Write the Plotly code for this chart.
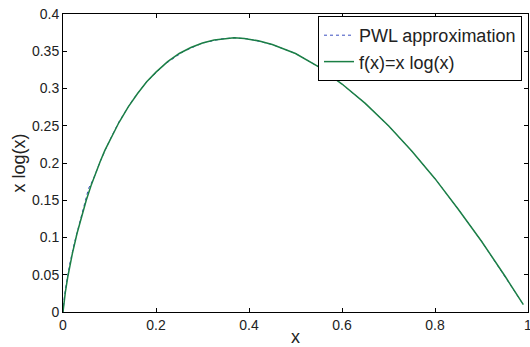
import plotly.graph_objects as go

# f(x) = x log(x) curve (plotted as magnitude)
f_x = [0.0, 0.001, 0.003, 0.005, 0.01, 0.015, 0.02, 0.03, 0.04, 0.05, 0.06, 0.07, 0.08, 0.09,
       0.10, 0.12, 0.14, 0.16, 0.18, 0.20, 0.225, 0.25, 0.275, 0.30, 0.325, 0.35, 0.368,
       0.39, 0.42, 0.45, 0.48, 0.50, 0.55, 0.60, 0.65, 0.70, 0.75, 0.80, 0.85, 0.90, 0.95, 0.99]
f_y = [0.0, 0.0069, 0.0174, 0.0265, 0.046, 0.063, 0.078, 0.105, 0.129, 0.150, 0.169, 0.186,
       0.202, 0.217, 0.230, 0.254, 0.275, 0.293, 0.309, 0.322, 0.336, 0.347, 0.355, 0.361,
       0.365, 0.367, 0.368, 0.367, 0.364, 0.359, 0.352, 0.347, 0.329, 0.306, 0.280, 0.250,
       0.216, 0.179, 0.138, 0.095, 0.0487, 0.0099]

# PWL approximation breakpoints (visible mainly where it departs from the curve near x=0)
pwl_x = [0.0, 0.003, 0.008, 0.015, 0.025, 0.035, 0.045, 0.055, 0.065, 0.08, 0.10, 0.12,
         0.15, 0.18, 0.22, 0.26, 0.30, 0.34, 0.368, 0.40, 0.45, 0.50, 0.55, 0.60, 0.65,
         0.70, 0.75, 0.80, 0.85, 0.90, 0.95, 0.99]
pwl_y = [0.0, 0.021, 0.042, 0.066, 0.094, 0.120, 0.142, 0.166, 0.178, 0.202, 0.230, 0.255,
         0.285, 0.309, 0.333, 0.350, 0.361, 0.3665, 0.368, 0.3665, 0.359, 0.347, 0.329,
         0.306, 0.280, 0.250, 0.216, 0.179, 0.138, 0.095, 0.0487, 0.0099]

x_ticks = [0, 0.2, 0.4, 0.6, 0.8, 1]
x_tick_text = ["0", "0.2", "0.4", "0.6", "0.8", "1"]
y_ticks = [0, 0.05, 0.1, 0.15, 0.2, 0.25, 0.3, 0.35, 0.4]
y_tick_text = ["0", "0.05", "0.1", "0.15", "0.2", "0.25", "0.3", "0.35", "0.4"]

fig = go.Figure()
fig.add_trace(go.Scatter(x=pwl_x, y=pwl_y, mode="lines", name="PWL approximation",
                         line=dict(color="#3a4fc0", width=1, dash="3px,3px")))
fig.add_trace(go.Scatter(x=f_x, y=f_y, mode="lines", name="f(x)=x log(x)",
                         line=dict(color="#1b7f45", width=1.5)))

axis_common = dict(showline=True, linecolor="black", linewidth=1, mirror="ticks",
                   ticks="inside", ticklen=4, tickcolor="black", showgrid=False,
                   zeroline=False, automargin=False, ticklabeloverflow="allow",
                   tickfont=dict(family="Liberation Sans, Arial", size=14, color="#222"))

fig.update_layout(
    width=530, height=347,
    margin=dict(l=63, r=2, t=14, b=35, autoexpand=False),
    paper_bgcolor="white", plot_bgcolor="white",
    font=dict(family="Liberation Sans, Arial", color="#222"),
    xaxis=dict(range=[0, 1], tickvals=x_ticks, ticktext=x_tick_text,
               title=dict(text="x", font=dict(size=18), standoff=0), **axis_common),
    yaxis=dict(range=[0, 0.4], tickvals=y_ticks, ticktext=y_tick_text,
               title=dict(text="x log(x)", font=dict(size=18), standoff=1), **axis_common),
    legend=dict(x=(318 - 63) / 465, y=(312 - 16) / 298, xanchor="left", yanchor="top",
                bgcolor="white", bordercolor="black", borderwidth=1,
                font=dict(size=18, color="#222"), tracegroupgap=0,
                itemwidth=30),
    showlegend=True,
)

fig.write_html("out.html", config={"displayModeBar": False},
               post_script="document.body.style.margin='0';")
